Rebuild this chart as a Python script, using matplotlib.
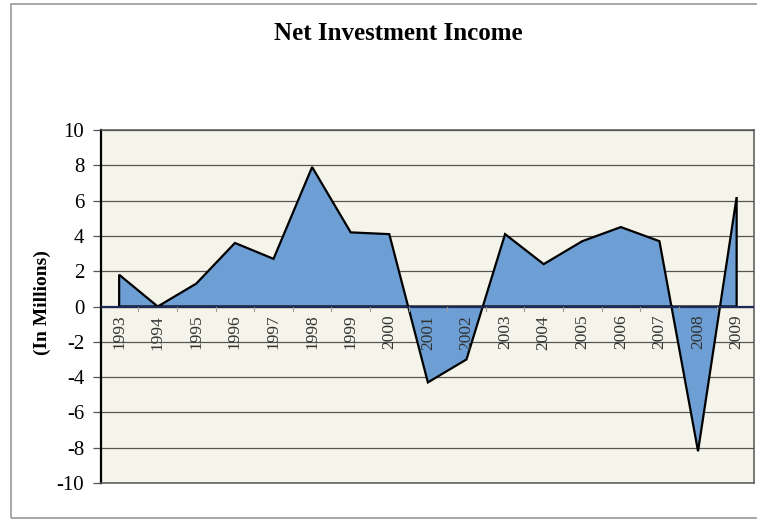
import numpy as np
import matplotlib
matplotlib.use("Agg")
import matplotlib.pyplot as plt
from matplotlib.patches import Rectangle

# net investment income by year, in millions
years = ["1993", "1994", "1995", "1996", "1997", "1998", "1999", "2000", "2001",
         "2002", "2003", "2004", "2005", "2006", "2007", "2008", "2009"]
income = [1.8, 0.0, 1.3, 3.6, 2.7, 7.9, 4.2, 4.1, -4.3,
          -3.0, 4.1, 2.4, 3.7, 4.5, 3.7, -8.2, 6.2]

plt.rcParams['font.family'] = ['Liberation Serif', 'DejaVu Serif']
plt.rcParams['axes.unicode_minus'] = False

fig = plt.figure(figsize=(7.57, 5.21), dpi=100)
ax = fig.add_axes([101/757, 38/521, 653/757, 353/521])
ax.set_facecolor("#f5f4ea")

x = np.arange(len(years))
# close the polygon down to zero at both ends
px = np.concatenate([[x[0]], x, [x[-1]]])
py = np.concatenate([[0], income, [0]])
ax.fill(px, py, facecolor="#6d9fd5", edgecolor="black", linewidth=1.6, zorder=3)

ax.set_xlim(-0.47, len(years) - 0.55)
ax.set_ylim(-10, 10)
ax.set_yticks(np.arange(-10, 11, 2))
ax.yaxis.grid(True, color="#555555", linewidth=0.9)
ax.set_axisbelow(True)
ax.axhline(0, color="#1c2a55", linewidth=1.6, zorder=4)

for s in ['top', 'right', 'bottom']:
    ax.spines[s].set_color("#555555")
    ax.spines[s].set_linewidth(1.1)
ax.spines['left'].set_linewidth(1.6)

# year labels sit just under the zero line, drawn over the fill
ax.set_xticks([])
for xi, yr in zip(x, years):
    ax.annotate(yr, (xi, 0), xytext=(0, -6), textcoords='offset points',
                rotation=90, ha='center', va='top', fontsize=12.5,
                color="#333333", zorder=5)
# small separators between categories on the zero line
for xb in x[:-1] + 0.5:
    ax.plot([xb, xb], [0, -0.25], color="#999999", linewidth=0.8, zorder=4)

ax.tick_params(axis='y', length=6, width=0.9, color="#555555", labelsize=15, pad=6)

ax.set_ylabel("(In Millions)", fontsize=14, fontweight='bold')
ax.yaxis.set_label_coords(-0.077, 0.51)
fig.text(398/757, 1 - 34/521, "Net Investment Income", ha='center', va='center',
         fontsize=18, fontweight='bold')

fig.add_artist(Rectangle((11/757, 3/521), 1.0, 514/521, transform=fig.transFigure,
                         fill=False, edgecolor="#999999", linewidth=1.2))

fig.savefig("out.png", dpi=100)
